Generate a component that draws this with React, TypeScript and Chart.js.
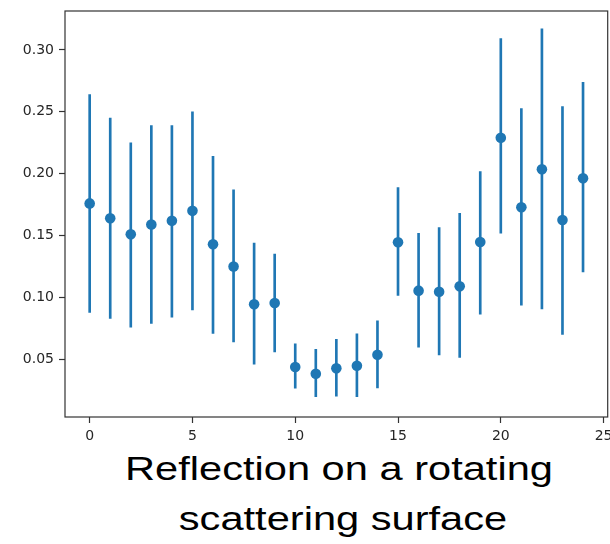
import React, { useEffect, useRef } from 'react';
import { Chart, registerables } from 'chart.js';

Chart.register(...registerables);

const xValues = [0, 1, 2, 3, 4, 5, 6, 7, 8, 9, 10, 11, 12, 13, 14, 15, 16, 17, 18, 19, 20, 21, 22, 23, 24];
const means = [0.176, 0.164, 0.151, 0.159, 0.162, 0.170, 0.143, 0.125, 0.0945, 0.0955, 0.0438, 0.0384, 0.0427, 0.0448, 0.0537, 0.1446, 0.1055, 0.1046, 0.109, 0.1448, 0.2291, 0.1729, 0.2036, 0.1626, 0.1963];
const lowerBounds = [0.088, 0.083, 0.076, 0.079, 0.084, 0.090, 0.071, 0.064, 0.046, 0.056, 0.0266, 0.0198, 0.0203, 0.0198, 0.0268, 0.1017, 0.0599, 0.0535, 0.0516, 0.0866, 0.1519, 0.0937, 0.0907, 0.0702, 0.1206];
const upperBounds = [0.264, 0.245, 0.225, 0.239, 0.239, 0.250, 0.214, 0.187, 0.144, 0.135, 0.0626, 0.0581, 0.0662, 0.0707, 0.0812, 0.1887, 0.1519, 0.1564, 0.168, 0.2017, 0.3092, 0.2526, 0.317, 0.2542, 0.2739];
const xTicks = [0, 5, 10, 15, 20, 25];
const yTicks = [0.05, 0.1, 0.15, 0.2, 0.25, 0.3];
const titleLines = ['Reflection on a rotating', 'scattering surface'];

const BLUE = '#1f77b4';
const AXIS = '#333333';

const framePlugin = {
  id: 'frame',
  afterDatasetsDraw(chart: any) {
    const { ctx, chartArea: a } = chart;
    ctx.save();
    ctx.strokeStyle = AXIS;
    ctx.lineWidth = 1.2;
    ctx.strokeRect(a.left, a.top, a.right - a.left, a.bottom - a.top);
    ctx.restore();
  },
};

export default function App() {
  const ref = useRef<HTMLCanvasElement | null>(null);

  useEffect(() => {
    if (!ref.current) return;
    const tickFont = { family: 'DejaVu Sans', size: 14 };
    const chart = new Chart(ref.current, {
      type: 'scatter',
      data: {
        datasets: [
          {
            type: 'scatter',
            data: xValues.map((x, i) => ({ x, y: means[i] })),
            backgroundColor: BLUE,
            borderColor: BLUE,
            pointRadius: 5.3,
            pointBorderWidth: 0,
            showLine: false,
            order: 0,
          } as any,
          {
            type: 'bar',
            data: xValues.map((x, i) => ({ x, y: [lowerBounds[i], upperBounds[i]] })),
            backgroundColor: BLUE,
            borderWidth: 0,
            barThickness: 2,
            order: 1,
          } as any,
        ],
      },
      options: {
        responsive: false,
        animation: false,
        layout: { padding: { top: 11, right: 2, left: 0, bottom: 0 } },
        plugins: {
          legend: { display: false },
          tooltip: { enabled: false },
          title: { display: false },
        },
        scales: {
          x: {
            type: 'linear',
            min: -1.2,
            max: 25.2,
            offset: false,
            grid: {
              display: true,
              drawOnChartArea: false,
              drawTicks: true,
              tickLength: 6,
              tickColor: AXIS,
              tickWidth: 1.2,
              offset: false,
            },
            border: { display: false },
            ticks: {
              autoSkip: false,
              maxRotation: 0,
              padding: 5,
              color: '#262626',
              font: tickFont,
              callback: (v: any) => String(v),
            },
            afterBuildTicks: (s: any) => {
              s.ticks = xTicks.map((v) => ({ value: v }));
            },
            afterFit: (s: any) => {
              s.height = 27;
              s.paddingLeft = 0;
              s.paddingRight = 0;
            },
          },
          y: {
            type: 'linear',
            min: 0.0034,
            max: 0.3315,
            beginAtZero: false,
            grid: {
              display: true,
              drawOnChartArea: false,
              drawTicks: true,
              tickLength: 6,
              tickColor: AXIS,
              tickWidth: 1.2,
            },
            border: { display: false },
            ticks: {
              padding: 5,
              color: '#262626',
              font: tickFont,
              callback: (v: any) => Number(v).toFixed(2),
            },
            afterBuildTicks: (s: any) => {
              s.ticks = yTicks.map((v) => ({ value: v }));
            },
            afterFit: (s: any) => {
              s.width = 65;
              s.paddingTop = 0;
              s.paddingBottom = 0;
            },
          },
        },
      } as any,
      plugins: [framePlugin],
    });
    return () => chart.destroy();
  }, []);

  const titleStyle = (center: number, top: number): React.CSSProperties => ({
    position: 'absolute',
    left: center - 300,
    width: 600,
    top,
    textAlign: 'center',
    whiteSpace: 'nowrap',
    fontFamily: '"Liberation Sans", Arial, sans-serif',
    fontSize: 32.5,
    lineHeight: '32.5px',
    color: '#000',
    transform: 'scaleX(1.28)',
    transformOrigin: 'center',
  });

  return (
    <div style={{ position: 'absolute', left: 0, top: 0, width: 610, height: 544, background: '#fff', overflow: 'hidden' }}>
      <canvas ref={ref} width={613} height={444} style={{ position: 'absolute', left: 0, top: 0, width: 613, height: 444 }} />
      <div style={titleStyle(338.5, 452.5)}>{titleLines[0]}</div>
      <div style={titleStyle(343, 502.5)}>{titleLines[1]}</div>
    </div>
  );
}
